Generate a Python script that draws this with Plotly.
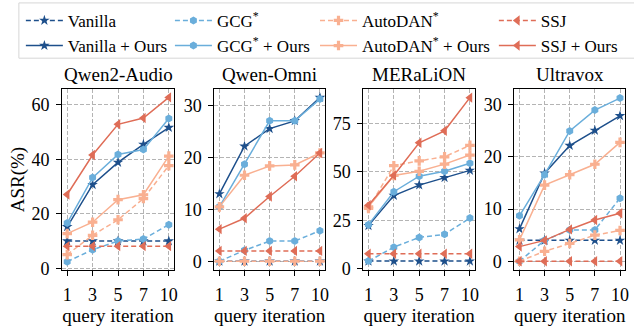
import plotly.graph_objects as go

# ---------------- data ----------------
iters = ["1", "3", "5", "7", "10"]
models = ["Qwen2-Audio", "Qwen-Omni", "MERaLiON", "Ultravox"]

vanilla = [[10.0, 10.0, 10.0, 10.0, 10.0],
           [0.0, 0.0, 0.0, 0.0, 0.0],
           [4.0, 4.0, 4.0, 4.0, 4.0],
           [4.0, 4.0, 4.0, 4.0, 4.0]]
vanilla_ours = [[15.2, 30.7, 38.9, 45.5, 51.7],
                [13.0, 22.2, 25.6, 27.1, 31.6],
                [22.3, 37.8, 43.2, 47.0, 50.8],
                [6.2, 16.9, 22.2, 25.1, 27.9]]
gcg = [[2.4, 6.8, 10.0, 10.7, 16.0],
       [0.0, 2.1, 3.9, 3.9, 5.9],
       [4.0, 11.2, 16.2, 17.8, 26.2],
       [0.0, 4.0, 6.0, 6.0, 12.1]]
gcg_ours = [[16.6, 33.3, 41.8, 43.6, 55.0],
            [10.5, 18.7, 27.1, 27.1, 31.3],
            [22.8, 39.8, 47.8, 50.3, 54.5],
            [8.7, 16.6, 25.0, 29.0, 31.3]]
autodan = [[5.0, 12.1, 17.8, 25.6, 37.7],
           [0.0, 0.0, 0.0, 0.0, 0.0],
           [31.2, 53.2, 55.7, 57.8, 63.7],
           [0.0, 1.9, 3.4, 5.0, 5.9]]
autodan_ours = [[12.7, 16.9, 25.2, 27.0, 41.2],
                [10.5, 16.6, 18.4, 18.6, 20.9],
                [32.0, 48.2, 50.3, 54.0, 58.7],
                [4.1, 14.6, 16.6, 18.6, 22.8]]
ssj = [[8.1, 8.1, 8.1, 8.1, 8.1],
       [2.0, 2.0, 2.0, 2.0, 2.0],
       [7.8, 7.8, 7.8, 7.8, 7.8],
       [0.0, 0.0, 0.0, 0.0, 0.0]]
ssj_ours = [[27.1, 41.6, 52.9, 55.2, 62.8],
            [6.2, 8.3, 12.5, 16.4, 20.9],
            [32.8, 48.2, 65.0, 71.2, 88.3],
            [2.8, 4.0, 6.1, 7.9, 9.2]]

y_ticks = [[0, 20, 40, 60], [0, 10, 20, 30], [0, 25, 50, 75], [0, 10, 20, 30]]
y_ranges = [[-0.5, 65.7], [-1.6, 33.15], [-0.35, 92.5], [-1.6, 32.95]]

# ---------------- style ----------------
FONT = "Liberation Serif"
C_VAN = "#1d4f8b"
C_GCG = "#6aaedb"
C_AUTO = "#f9b091"
C_SSJ = "#df6d57"
DASH = "5px,3px"

methods = [
    # name, data, color, symbol, size, dashed, legend
    ("Vanilla", vanilla, C_VAN, "star", 8, True, "legend"),
    ("GCG<sup>*</sup>", gcg, C_GCG, "hexagon", 8, True, "legend2"),
    ("AutoDAN<sup>*</sup>", autodan, C_AUTO, "cross", 8, True, "legend3"),
    ("SSJ", ssj, C_SSJ, "triangle-left", 9, True, "legend4"),
    ("Vanilla + Ours", vanilla_ours, C_VAN, "star", 8, False, "legend"),
    ("GCG<sup>*</sup> + Ours", gcg_ours, C_GCG, "hexagon", 8, False, "legend2"),
    ("AutoDAN<sup>*</sup> + Ours", autodan_ours, C_AUTO, "cross", 8, False, "legend3"),
    ("SSJ + Ours", ssj_ours, C_SSJ, "triangle-left", 9, False, "legend4"),
]

W, H = 634, 329
x_px = [(62.5, 175.0), (215.7, 327.0), (365.7, 478.0), (517.7, 629.0)]
y_px = (92.3, 278.0)

fig = go.Figure()

for p in range(4):
    sfx = "" if p == 0 else str(p + 1)
    for name, data, color, sym, size, dashed, lg in methods:
        fig.add_trace(go.Scatter(
            x=iters, y=data[p], name=name,
            mode="lines+markers",
            line=dict(color=color, width=1.5, dash=DASH if dashed else "solid"),
            marker=dict(symbol=sym, size=size, color=color, line=dict(width=0)),
            xaxis="x" + sfx, yaxis="y" + sfx,
            showlegend=(p == 0), legend=lg,
        ))

axis_common = dict(
    showline=True, linecolor="black", linewidth=1.2, mirror=True,
    ticks="outside", ticklen=5, tickwidth=1, tickcolor="black",
    showgrid=True, gridcolor="#b4b4b4", gridwidth=1, griddash="4px,2px",
    zeroline=False,
    tickfont=dict(family=FONT, size=18, color="black"),
)

layout = dict(
    width=W, height=H,
    margin=dict(l=0, r=0, t=0, b=0),
    paper_bgcolor="white", plot_bgcolor="white",
    font=dict(family=FONT, color="black", size=17),
    annotations=[], shapes=[],
)

for p in range(4):
    sfx = "" if p == 0 else str(p + 1)
    x0, x1 = x_px[p]
    xd = [x0 / W, x1 / W]
    yd = [1 - y_px[1] / H, 1 - y_px[0] / H]
    layout["xaxis" + sfx] = dict(
        axis_common, domain=xd, anchor="y" + sfx,
        type="category", categoryorder="array", categoryarray=iters,
        range=[-0.2, 4.2], ticklabelstandoff=4,
        title=dict(text="query iteration", font=dict(family=FONT, size=19), standoff=1),
    )
    ya = dict(
        axis_common, domain=yd, anchor="x" + sfx,
        range=y_ranges[p], tickmode="array", tickvals=y_ticks[p],
        ticklabelstandoff=3,
    )
    if p == 0:
        ya["title"] = dict(text="ASR(%)", font=dict(family=FONT, size=19), standoff=1)
    layout["yaxis" + sfx] = ya
    layout["annotations"].append(dict(
        text=models[p], x=(x0 + x1) / 2 / W, y=yd[1], xref="paper", yref="paper",
        xanchor="center", yanchor="bottom", yshift=2, showarrow=False,
        font=dict(family=FONT, size=19, color="black"),
    ))

leg_x = [21, 171, 317, 497]
for i, key in enumerate(["legend", "legend2", "legend3", "legend4"]):
    layout[key] = dict(
        x=leg_x[i] / W, y=1 - 3 / H, xanchor="left", yanchor="top",
        orientation="v", bgcolor="rgba(0,0,0,0)", borderwidth=0,
        font=dict(family=FONT, size=17, color="black"),
        tracegroupgap=0, itemwidth=37,
    )

layout["shapes"].append(dict(
    type="rect", xref="paper", yref="paper",
    x0=19 / W, x1=1.01, y0=1 - 60 / H, y1=1 - 3 / H,
    line=dict(color="#d6d6d6", width=1), fillcolor="rgba(0,0,0,0)", layer="below",
))

fig.update_layout(**layout)

page_fix = (
    "document.documentElement.style.margin='0';"
    "document.documentElement.style.padding='0';"
    "document.documentElement.style.overflow='hidden';"
    "document.body.style.margin='0';"
    "document.body.style.padding='0';"
    "document.body.style.overflow='hidden';"
    "document.body.style.height='329px';"
    "var gd=document.getElementById('{plot_id}');"
    "if(gd&&gd.parentElement){gd.parentElement.style.height='329px';"
    "gd.parentElement.style.overflow='hidden';}"
)
fig.write_html(
    "out.html",
    config={"displayModeBar": False},
    post_script=page_fix,
)
